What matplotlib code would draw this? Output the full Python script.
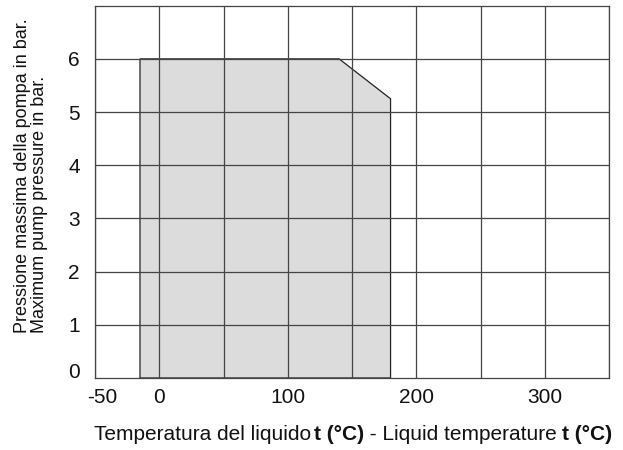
import matplotlib
matplotlib.use("Agg")
import matplotlib.pyplot as plt
import matplotlib.transforms as mtransforms
from matplotlib.offsetbox import TextArea, HPacker, AnchoredOffsetbox
from matplotlib.patches import Polygon

plt.rcParams['font.family'] = ['Liberation Sans', 'DejaVu Sans']

# Data: operating envelope (temperature °C, pressure bar)
temp = [-15, -15, 140, 180, 180]
pressure = [0, 6, 6, 5.25, 0]

xgrid = [-50, 0, 50, 100, 150, 200, 250, 300, 350]
xticks_labeled = [-50, 0, 100, 200, 300]
yticks = [0, 1, 2, 3, 4, 5, 6]

W, H = 623, 450
fig = plt.figure(figsize=(W / 100, H / 100), dpi=100)
ax = fig.add_axes([95 / W, 1 - 378 / H, (609 - 95) / W, (378 - 5.7) / H])

ax.set_xlim(-50, 350)
ax.set_ylim(0, 7)

poly = Polygon(list(zip(temp, pressure)), closed=True, facecolor='#dcdcdc',
               edgecolor='#222222', linewidth=0.9, zorder=1)
ax.add_patch(poly)

for xv in xgrid:
    ax.axvline(xv, color='#444444', linewidth=0.9, zorder=2)
for yv in yticks[1:]:
    ax.axhline(yv, color='#444444', linewidth=0.9, zorder=2)

for s in ax.spines.values():
    s.set_color('#444444')
    s.set_linewidth(0.9)

ax.set_xticks(xticks_labeled)
ax.set_xticklabels([str(v) for v in xticks_labeled])
ax.set_yticks(yticks)
ax.set_yticklabels([str(v) for v in yticks])
ax.tick_params(length=0, labelsize=15, colors='#111111')
ax.tick_params(axis='x', pad=7)
ax.tick_params(axis='y', pad=11)

# shift "-50" right and "0" (y) up, as in the reference
xl = ax.get_xticklabels()
xl[0].set_transform(xl[0].get_transform() +
                    mtransforms.ScaledTranslation(7 / 100, 0, fig.dpi_scale_trans))
yl = ax.get_yticklabels()
yl[0].set_transform(yl[0].get_transform() +
                    mtransforms.ScaledTranslation(0, 7 / 100, fig.dpi_scale_trans))

fig.text(31 / W, 1 - 333 / H,
         "Pressione massima della pompa in bar.\nMaximum pump pressure in bar.",
         rotation=90, ha='center', va='bottom', multialignment='left',
         fontsize=13, color='#111111', linespacing=1.05)

fs = 15
tp_n = dict(fontsize=fs, fontweight='normal', color='#111111')
tp_b = dict(fontsize=fs, fontweight='bold', color='#111111')
first = HPacker(children=[TextArea("Temperatura del liquido", textprops=tp_n),
                          TextArea("t (°C)", textprops=tp_b)],
                pad=0, sep=2, align='baseline')
packer = HPacker(children=[first,
                           TextArea(" - Liquid temperature ", textprops=tp_n),
                           TextArea("t (°C)", textprops=tp_b)],
                 pad=0, sep=0, align='baseline')
ab = AnchoredOffsetbox(loc='center', child=packer, frameon=False,
                       bbox_to_anchor=(353 / W, 1 - 434 / H),
                       bbox_transform=fig.transFigure, pad=0, borderpad=0)
fig.add_artist(ab)

fig.savefig("out.png", dpi=100)
